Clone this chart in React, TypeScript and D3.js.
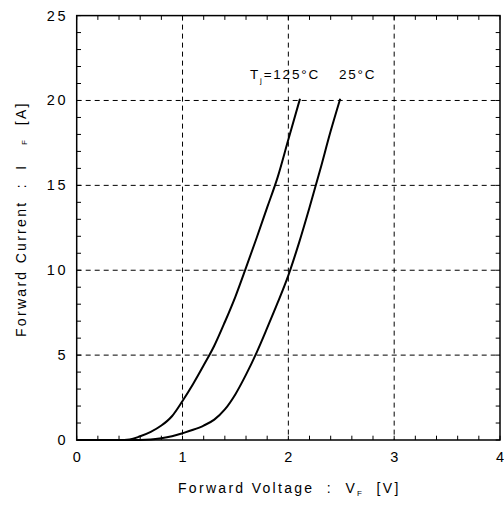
import React from "react";
import * as d3 from "d3";

const xTicks = [0, 1, 2, 3, 4];
const yTicks = [0, 5, 10, 15, 20, 25];
const gridX = [1, 2, 3];
const gridY = [5, 10, 15, 20];

const v125 = [0, 0.4, 0.5, 0.6, 0.7, 0.8, 0.9, 1.0, 1.1, 1.2, 1.3, 1.4, 1.5, 1.6, 1.7, 1.8, 1.9, 2.0, 2.11];
const i125 = [0, 0, 0.03, 0.22, 0.48, 0.85, 1.4, 2.3, 3.3, 4.4, 5.55, 6.95, 8.45, 10.15, 11.9, 13.7, 15.5, 17.7, 20.1];

const v25 = [0, 0.5, 0.7, 0.8, 0.9, 1.0, 1.1, 1.2, 1.3, 1.4, 1.5, 1.6, 1.7, 1.8, 1.9, 2.0, 2.1, 2.2, 2.3, 2.4, 2.49];
const i25 = [0, 0, 0.03, 0.1, 0.22, 0.4, 0.6, 0.85, 1.2, 1.8, 2.7, 3.85, 5.15, 6.6, 8.1, 9.7, 11.6, 13.7, 15.9, 18.2, 20.1];

const W = 504;
const H = 506;
const L = 76.7, R = 500, T = 15.6, B = 440;

export default function App() {
  const x = d3.scaleLinear().domain([0, 4]).range([L, R]);
  const y = d3.scaleLinear().domain([0, 25]).range([B, T]);
  const line = d3
    .line<[number, number]>()
    .x((d) => x(d[0]))
    .y((d) => y(d[1]))
    .curve(d3.curveMonotoneX);
  const d125 = line(v125.map((v, k) => [v, i125[k]] as [number, number])) || "";
  const d25 = line(v25.map((v, k) => [v, i25[k]] as [number, number])) || "";

  const minorX = d3.range(0, 4.0001, 0.2);
  const minorY = d3.range(0, 25.0001, 1);
  const tl = 4.3;
  const font = "'Liberation Sans', Arial, Helvetica, sans-serif";
  const pre = { whiteSpace: "pre" as const };

  return (
    <svg
      width={W}
      height={H}
      style={{ position: "absolute", left: 0, top: 0, background: "#fff" }}
      fontFamily={font}
    >
      <rect x={0} y={0} width={W} height={H} fill="#fff" />
      {gridX.map((g) => (
        <line key={"gx" + g} x1={x(g)} x2={x(g)} y1={T} y2={B} stroke="#000" strokeWidth={1} strokeDasharray="5,4" />
      ))}
      {gridY.map((g) => (
        <line key={"gy" + g} x1={L} x2={R} y1={y(g)} y2={y(g)} stroke="#000" strokeWidth={1} strokeDasharray="5,4" />
      ))}
      {minorX.map((t, k) => (
        <g key={"mx" + k}>
          <line x1={x(t)} x2={x(t)} y1={B} y2={B - tl} stroke="#000" strokeWidth={1} />
          <line x1={x(t)} x2={x(t)} y1={T} y2={T + tl} stroke="#000" strokeWidth={1} />
        </g>
      ))}
      {minorY.map((t, k) => (
        <g key={"my" + k}>
          <line x1={L} x2={L + tl} y1={y(t)} y2={y(t)} stroke="#000" strokeWidth={1} />
          <line x1={R} x2={R - tl} y1={y(t)} y2={y(t)} stroke="#000" strokeWidth={1} />
        </g>
      ))}
      <rect x={L} y={T} width={R - L} height={B - T} fill="none" stroke="#000" strokeWidth={1.5} />
      <path d={d125} fill="none" stroke="#000" strokeWidth={2} />
      <path d={d25} fill="none" stroke="#000" strokeWidth={2} />
      {xTicks.map((t) => (
        <text key={"xt" + t} x={x(t)} y={462} fontSize={14.5} textAnchor="middle" fill="#000">
          {t}
        </text>
      ))}
      {yTicks.map((t) => (
        <text key={"yt" + t} x={68} y={y(t) + 5} fontSize={14.5} letterSpacing={2.5} textAnchor="end" fill="#000">
          {t}
        </text>
      ))}
      <text x={250} y={79} fontSize={13.5} letterSpacing={1.8} fill="#000" style={pre}>
        T<tspan fontSize={8} dy={4}>j</tspan>
        <tspan dy={-4}>=125°C</tspan>
      </text>
      <text x={339} y={79} fontSize={13.5} letterSpacing={1.8} fill="#000" style={pre}>
        25°C
      </text>
      <text x={178} y={493} fontSize={14} fill="#000" letterSpacing={2.3} style={pre}>
        {"Forward Voltage  :  V"}
        <tspan fontSize={8} dy={3}>F</tspan>
        <tspan dy={-3}>{"  [V]"}</tspan>
      </text>
      <text
        transform={`translate(26,337) rotate(-90)`}
        x={0}
        y={0}
        fontSize={14}
        fill="#000"
        letterSpacing={2.3}
        style={pre}
      >
        {"Forward Current  :  I   "}
        <tspan fontSize={8} dy={1}>F</tspan>
        <tspan dy={-1}>{"  [A]"}</tspan>
      </text>
    </svg>
  );
}
